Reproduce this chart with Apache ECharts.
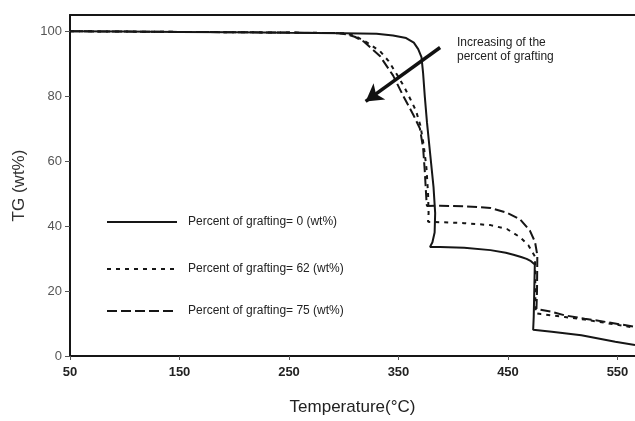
<!DOCTYPE html>
<html>
<head>
<meta charset="utf-8">
<script src="https://cdn.jsdelivr.net/npm/echarts@6/dist/echarts.min.js"></script>
<style>
  html, body { margin: 0; padding: 0; background: #fff; }
  #chart { width: 635px; height: 421px; }
</style>
</head>
<body>
<div id="chart"></div>
<script>
// TG curves of grafted samples: temperature (°C) vs residual weight (wt%)
const xTicks = [50, 150, 250, 350, 450, 550];
const yTicks = [0, 20, 40, 60, 80, 100];

const seriesNames = [
  'Percent of grafting= 0 (wt%)',
  'Percent of grafting= 62 (wt%)',
  'Percent of grafting= 75 (wt%)'
];

// 0 wt% grafting
const tempG0 = [50, 100, 150, 200, 250, 300, 330, 345, 357, 364, 368, 371, 372.5, 374, 376, 379, 382, 383.5, 383, 381, 378.8, 388, 410, 434, 448, 455, 462, 467, 471, 474.5, 474, 473.5, 473, 490, 517, 548, 566];
const tgG0   = [100, 99.9, 99.8, 99.7, 99.5, 99.4, 99.2, 98.7, 97.9, 96.5, 94.5, 92, 87, 80, 72, 62, 52, 44, 38, 35, 33.6, 33.6, 33.3, 32.6, 31.8, 31.2, 30.5, 29.9, 29.2, 28.2, 20, 12, 8.1, 7.5, 6.4, 4.4, 3.4];

// 62 wt% grafting
const tempG62 = [50, 150, 250, 300, 310, 321, 333, 341, 348, 355, 361, 366, 370, 373, 375.5, 377, 377.5, 377, 378, 390, 410, 434, 449, 461, 468.6, 474.7, 475, 475, 480, 502, 520, 539, 566];
const tgG62   = [100, 99.8, 99.6, 99.4, 98.6, 96.6, 93.9, 90.8, 87, 83, 79, 75.5, 71, 65, 58, 50, 44, 41.3, 41.2, 41.2, 40.9, 40.3, 39.1, 36.6, 34.1, 30.6, 20, 13.2, 12.9, 12, 11.2, 10.2, 8.7];

// 75 wt% grafting
const tempG75 = [50, 150, 250, 295, 303, 310, 318, 333, 345, 354, 363.5, 369.6, 372.5, 374, 375, 375.7, 376, 388, 410, 434, 449, 461, 470, 474.7, 476.8, 476.5, 476, 490, 502, 520, 539, 566];
const tgG75   = [100, 99.8, 99.6, 99.4, 99, 98.3, 96.9, 92.4, 86.4, 80.3, 74.3, 70, 64, 57, 51, 47, 46.2, 46.3, 46.1, 45.6, 44.1, 42.1, 38.6, 35.1, 31, 20, 14.5, 13.6, 12.5, 11.5, 10.5, 9];

// annotation arrow (tail -> head), in axis units
const arrowFrom = [388, 95];
const arrowTo = [320, 78.4];
const noteText = 'Increasing of the\npercent of grafting';

const pairs = (xs, ys) => xs.map((x, i) => [x, ys[i]]);
const ink = '#161616';
const font = '"Liberation Sans", Arial, sans-serif';

const dashStyles = ['solid', [4, 5], [10, 4]];
const lineData = [pairs(tempG0, tgG0), pairs(tempG62, tgG62), pairs(tempG75, tgG75)];
const legendTops = [216, 263, 305];

const series = seriesNames.map((name, i) => ({
  name: name,
  type: 'line',
  data: lineData[i],
  symbol: 'none',
  showSymbol: false,
  smooth: false,
  lineStyle: { color: ink, width: 2, type: dashStyles[i] },
  itemStyle: { color: ink },
  z: 3
}));

series[0].markLine = {
  silent: true,
  symbol: ['none', 'arrow'],
  symbolSize: [15, 17],
  label: { show: false },
  lineStyle: { color: '#111', width: 3.5, type: 'solid' },
  data: [[{ coord: arrowFrom }, { coord: arrowTo }]]
};

// one legend block per curve, line sample only (no marker dot)
const legends = seriesNames.map((name, i) => ({
  show: true,
  data: [name],
  left: 106,
  top: legendTops[i],
  orient: 'horizontal',
  padding: 0,
  itemWidth: 70,
  itemHeight: 14,
  selectedMode: false,
  itemStyle: { opacity: 0 },
  textStyle: { fontFamily: font, fontSize: 12, color: '#222', padding: [0, 0, 0, 6] }
}));

const chart = echarts.init(document.getElementById('chart'), null, { renderer: 'canvas' });
chart.setOption({
  animation: false,
  backgroundColor: '#fff',
  grid: { left: 70, top: 15, right: 0, bottom: 58, containLabel: false },
  legend: legends,
  xAxis: [{
    type: 'value',
    min: 50,
    max: 566,
    position: 'bottom',
    name: 'Temperature(°C)',
    nameLocation: 'middle',
    nameGap: 43,
    nameTextStyle: { fontFamily: font, fontSize: 17, color: '#222' },
    splitLine: { show: false },
    axisLine: { lineStyle: { color: ink, width: 2 } },
    axisTick: { show: true, length: 4, customValues: xTicks, lineStyle: { color: '#555', width: 1 } },
    axisLabel: { customValues: xTicks, fontFamily: font, fontSize: 13, fontWeight: 'bold', color: '#222', margin: 10 }
  }, {
    type: 'value',
    min: 50,
    max: 566,
    position: 'top',
    splitLine: { show: false },
    axisLine: { show: true, lineStyle: { color: ink, width: 2 } },
    axisTick: { show: false },
    axisLabel: { show: false }
  }],
  yAxis: {
    type: 'value',
    min: 0,
    max: 105,
    name: 'TG (wt%)',
    nameLocation: 'middle',
    nameGap: 42,
    nameTextStyle: { fontFamily: font, fontSize: 17, color: '#333' },
    splitLine: { show: false },
    axisLine: { show: true, lineStyle: { color: ink, width: 2 } },
    axisTick: { show: true, length: 5, customValues: yTicks, lineStyle: { color: '#555', width: 1 } },
    axisLabel: { customValues: yTicks, fontFamily: font, fontSize: 13, color: '#555', margin: 8 }
  },
  graphic: [{
    type: 'text',
    left: 457,
    top: 36,
    style: { text: noteText, fontFamily: font, fontSize: 12, lineHeight: 14, fill: '#222' }
  }],
  series: series
});
</script>
</body>
</html>
